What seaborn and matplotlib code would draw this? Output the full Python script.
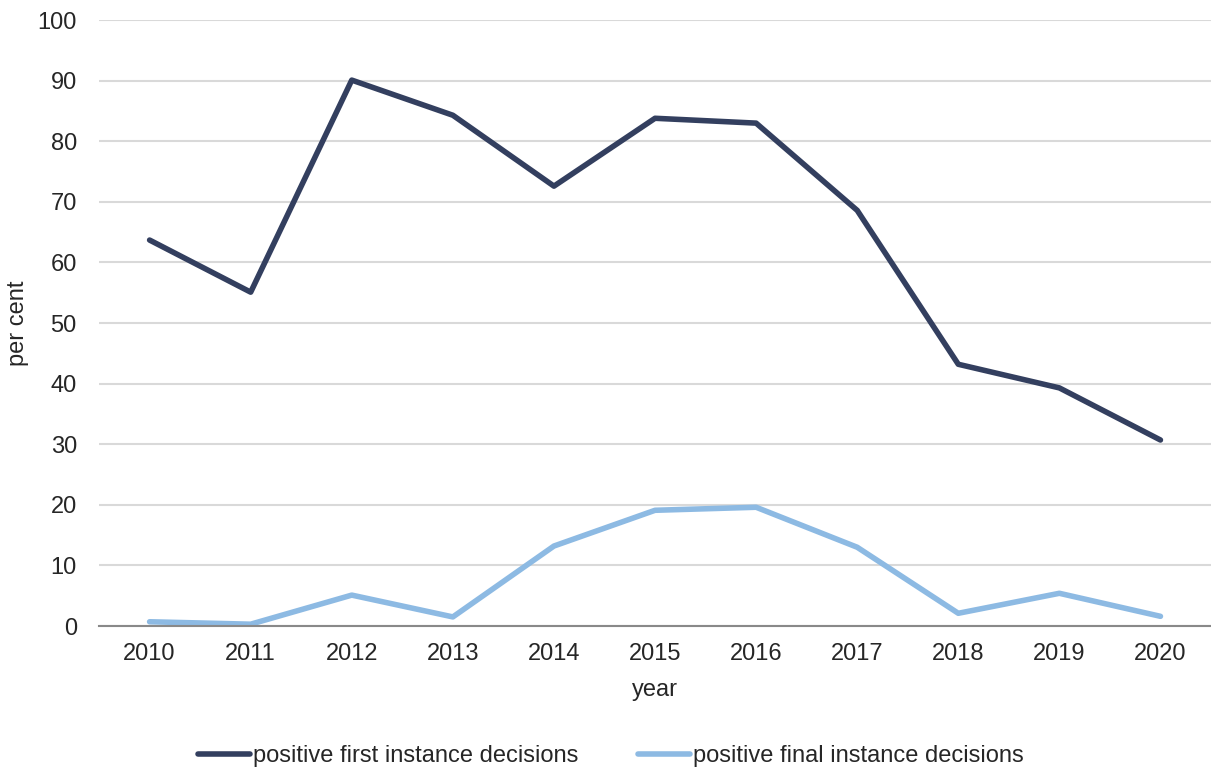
import pandas as pd
import numpy as np
import seaborn as sns
import matplotlib.pyplot as plt

# values
years = [2010, 2011, 2012, 2013, 2014, 2015, 2016, 2017, 2018, 2019, 2020]
first_instance = [63.7, 55.1, 90.1, 84.3, 72.6, 83.8, 83.0, 68.6, 43.2, 39.3, 30.7]
final_instance = [0.7, 0.3, 5.1, 1.5, 13.2, 19.1, 19.6, 13.0, 2.1, 5.4, 1.6]
series_names = ['positive first instance decisions', 'positive final instance decisions']
colors = ['#333f5f', '#8dbae3']

df = pd.DataFrame({
    'year': [str(y) for y in years] * 2,
    'value': first_instance + final_instance,
    'series': [series_names[0]] * len(years) + [series_names[1]] * len(years),
})

sns.set_theme(style='white')
plt.rcParams['font.family'] = ['Liberation Sans', 'DejaVu Sans']

fig = plt.figure(figsize=(12.11, 7.74), dpi=100)
ax = fig.add_axes([0.0818, 0.1912, 0.9182, 0.7828])

sns.lineplot(data=df, x='year', y='value', hue='series', palette=colors,
             linewidth=4.0, sort=False, ax=ax, solid_capstyle='round',
             solid_joinstyle='round')

ax.set_xlim(-0.5, len(years) - 0.5)
ax.set_ylim(0, 100)
ax.set_yticks(np.arange(0, 101, 10))
ax.yaxis.grid(True, color='#d9d9d9', linewidth=1.5)
ax.set_axisbelow(True)
for side in ['top', 'right', 'left']:
    ax.spines[side].set_visible(False)
ax.spines['bottom'].set_color('#898989')
ax.spines['bottom'].set_linewidth(1.5)
ax.tick_params(axis='both', length=0, labelsize=17, colors='#262626')
ax.tick_params(axis='y', pad=16)
ax.tick_params(axis='x', pad=12)

ax.set_xlabel('year', fontsize=17, color='#262626', labelpad=10)
ax.set_ylabel('per cent', fontsize=17, color='#262626', labelpad=6)

ax.legend_.remove()
handles, labels = ax.get_legend_handles_labels()
for h in handles:
    h.set_solid_capstyle('round')
fig.legend(handles, labels, loc='center', bbox_to_anchor=(0.5045, 0.023), ncol=2,
           frameon=False, fontsize=17, handlelength=2.2, handletextpad=0.15,
           columnspacing=2.5, labelcolor='#262626')

fig.savefig('out.png', dpi=100)
